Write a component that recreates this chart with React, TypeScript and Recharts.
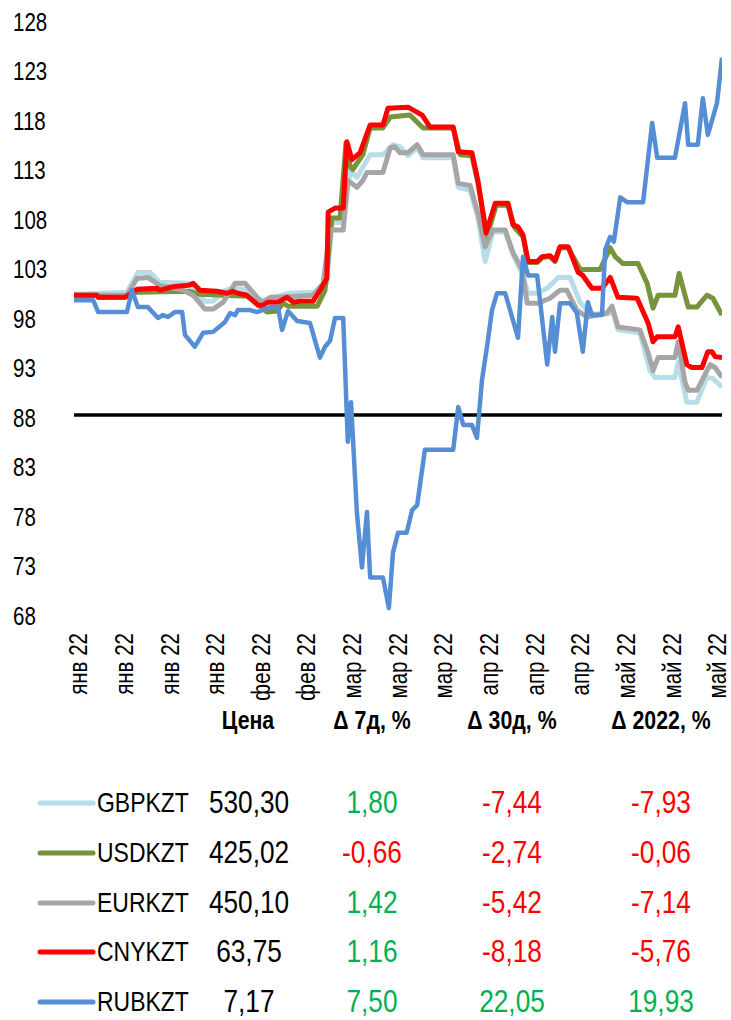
import React from 'react';
import { LineChart, Line, XAxis, YAxis, ReferenceLine } from 'recharts';

const FONT = "'Liberation Sans', Arial, sans-serif";
const NARROW = 0.82;

const tickDays = [0, 10, 20, 30, 40, 50, 60, 70, 80, 90, 100, 110, 120, 130, 140];
const tickLabels = [
  'янв 22', 'янв 22', 'янв 22', 'янв 22', 'фев 22', 'фев 22', 'мар 22', 'мар 22',
  'мар 22', 'апр 22', 'апр 22', 'апр 22', 'май 22', 'май 22', 'май 22',
];
const yTicks = [68, 73, 78, 83, 88, 93, 98, 103, 108, 113, 118, 123, 128];
const referenceLevel = 88.3;

const gbpkzt: [number, number][] = [
  [-1, 100.5], [10.6, 100.7], [13.0, 102.7], [15.7, 102.7], [17.8, 101.7], [23.8, 101.6], [26.0, 100.6],
  [27.7, 99.8], [29.5, 99.8], [32.1, 100.9], [34.3, 101.2], [36.9, 100.9], [39.8, 99.7], [42.0, 100.1],
  [46.3, 100.6], [51.8, 100.7], [54.4, 101.6], [55.5, 107.7], [58.0, 107.8], [59.5, 113.0], [61.0, 112.3],
  [63.9, 114.6], [66.7, 114.6], [68.9, 115.6], [70.4, 115.4], [72.2, 114.5], [74.2, 115.3], [75.5, 114.3],
  [82.1, 114.3], [83.2, 111.3], [85.8, 111.0], [87.5, 108.3], [89.1, 103.8], [90.8, 106.8], [93.5, 106.8],
  [95.2, 104.5], [97.2, 102.6], [98.5, 100.6], [100.5, 100.6], [102.7, 101.1], [105.1, 102.2], [107.7, 102.2],
  [109.9, 99.7], [112.1, 98.5], [115.8, 98.5], [117.1, 98.7], [118.2, 96.9], [123.0, 96.6], [125.2, 92.8],
  [126.3, 92.1], [130.7, 92.1], [131.4, 93.6], [133.3, 89.6], [135.5, 89.6], [137.7, 92.1], [139.0, 92.0],
  [141.0, 91.1],
];

const usdkzt: [number, number][] = [
  [-1, 100.4], [4.0, 100.4], [4.3, 100.2], [10.2, 100.2], [12.8, 100.7], [24.0, 100.8], [26.6, 100.5],
  [36.9, 100.3], [39.3, 99.5], [41.3, 98.7], [43.5, 98.8], [44.8, 99.6], [45.9, 99.3], [52.3, 99.3],
  [54.0, 100.9], [55.5, 108.2], [57.3, 108.2], [58.6, 115.8], [59.5, 113.4], [60.1, 113.1], [62.3, 114.6],
  [63.9, 117.3], [66.7, 117.3], [68.3, 118.4], [72.6, 118.6], [75.5, 117.3], [82.1, 117.3], [83.6, 114.6],
  [86.2, 114.5], [87.5, 111.8], [89.5, 106.3], [91.5, 109.5], [94.1, 109.5], [95.6, 107.2], [97.4, 106.3],
  [98.5, 103.7], [100.5, 103.7], [101.6, 104.2], [103.3, 104.3], [104.4, 103.8], [105.5, 105.2], [107.3, 105.2],
  [109.9, 103.0], [114.3, 103.0], [116.5, 105.2], [117.6, 104.3], [119.3, 103.6], [122.6, 103.6], [124.6, 101.6],
  [125.9, 99.1], [127.0, 100.4], [130.7, 100.4], [131.6, 102.6], [133.6, 99.2], [135.5, 99.2], [137.7, 100.4],
  [139.0, 100.1], [141.0, 98.4],
];

const eurkzt: [number, number][] = [
  [-1, 100.4], [10.6, 100.4], [12.8, 102.1], [15.2, 102.2], [17.8, 101.4], [22.9, 100.9], [25.1, 100.4],
  [27.7, 99.0], [29.5, 99.0], [31.7, 99.7], [34.3, 101.6], [36.5, 101.6], [39.3, 100.1], [40.4, 99.7],
  [42.0, 100.2], [44.1, 100.2], [51.4, 100.4], [53.6, 101.6], [55.1, 107.0], [58.0, 107.0], [59.0, 112.0],
  [61.0, 111.3], [62.3, 112.0], [63.2, 112.8], [66.7, 112.8], [68.3, 115.3], [69.3, 115.4], [70.4, 114.8],
  [72.2, 114.8], [74.2, 115.6], [75.5, 114.6], [82.1, 114.6], [83.2, 111.7], [85.8, 111.5], [87.5, 108.7],
  [89.1, 105.3], [90.8, 107.0], [93.5, 107.0], [95.2, 104.7], [97.2, 103.0], [98.3, 99.6], [100.7, 99.6],
  [103.3, 100.1], [105.5, 100.9], [107.0, 100.9], [109.2, 98.9], [111.4, 98.2], [115.8, 98.6], [116.9, 99.3],
  [118.2, 97.2], [123.0, 96.9], [124.8, 94.6], [125.9, 92.8], [127.0, 94.1], [130.7, 94.1], [131.4, 95.7],
  [132.9, 91.6], [133.6, 90.8], [135.5, 90.8], [138.4, 93.4], [139.5, 93.1], [141.0, 92.1],
];

const cnykzt: [number, number][] = [
  [-1, 100.4], [4.0, 100.4], [4.3, 100.2], [10.2, 100.2], [12.8, 101.0], [17.2, 101.1], [17.8, 100.9],
  [20.0, 101.2], [21.6, 101.3], [24.0, 101.4], [25.1, 101.6], [26.6, 100.9], [30.3, 100.8], [32.5, 100.6],
  [33.8, 100.8], [34.9, 100.6], [36.9, 100.4], [39.3, 99.4], [40.4, 99.4], [41.5, 99.7], [43.7, 99.7],
  [45.7, 100.2], [47.0, 99.7], [48.5, 99.8], [51.4, 99.8], [52.9, 100.9], [54.4, 102.1], [54.7, 108.8],
  [56.2, 109.2], [58.0, 109.2], [58.8, 115.9], [59.9, 114.1], [61.7, 114.8], [63.9, 117.6], [66.7, 117.6],
  [67.8, 119.3], [72.2, 119.4], [75.3, 118.6], [77.0, 117.4], [82.1, 117.4], [83.2, 114.9], [86.2, 114.8],
  [87.5, 112.0], [89.3, 106.7], [91.3, 109.7], [94.1, 109.7], [95.2, 107.5], [96.3, 107.3], [97.4, 106.5],
  [98.5, 103.8], [100.5, 103.8], [101.6, 104.3], [103.3, 104.4], [104.4, 103.9], [105.5, 105.3], [107.3, 105.3],
  [109.5, 102.7], [110.5, 102.4], [112.5, 101.1], [114.7, 101.1], [116.5, 102.2], [118.2, 100.2], [122.4, 100.1],
  [124.8, 97.6], [125.9, 95.7], [126.8, 96.2], [130.7, 96.2], [131.4, 97.2], [133.3, 93.4], [134.4, 93.1],
  [136.6, 93.1], [137.9, 94.7], [138.8, 94.7], [139.5, 94.2], [141.0, 94.1],
];

const rubkzt: [number, number][] = [
  [-1, 99.9], [3.2, 99.9], [4.3, 98.7], [10.6, 98.7], [11.7, 100.9], [13.0, 99.2], [15.2, 99.2], [17.4, 98.1],
  [18.5, 98.4], [19.6, 98.2], [21.1, 98.7], [22.7, 98.7], [23.3, 96.4], [25.5, 95.2], [27.3, 96.6], [29.5, 96.7],
  [32.1, 97.7], [33.2, 98.6], [34.3, 98.4], [34.9, 98.9], [37.6, 98.9], [39.1, 98.7], [42.0, 99.2], [43.7, 99.2],
  [44.6, 96.9], [45.9, 98.8], [47.9, 97.8], [50.7, 97.6], [52.9, 94.1], [54.0, 95.2], [55.1, 95.8], [56.2, 98.1],
  [58.0, 98.1], [59.0, 85.6], [59.7, 89.6], [61.0, 78.4], [62.1, 72.9], [63.2, 78.5], [63.9, 71.9], [66.7, 71.9],
  [68.0, 68.8], [68.9, 74.4], [70.0, 76.4], [71.9, 76.4], [73.1, 78.7], [74.2, 79.2], [75.9, 84.8], [82.1, 84.8],
  [83.2, 89.1], [84.3, 87.3], [86.2, 87.3], [87.3, 86.0], [88.4, 91.8], [89.5, 95.2], [90.6, 98.9], [91.7, 100.6],
  [93.5, 100.6], [96.3, 96.1], [97.4, 104.3], [98.5, 102.4], [100.5, 102.4], [102.7, 93.4], [103.8, 98.2],
  [104.4, 94.7], [105.5, 99.6], [107.7, 99.6], [109.2, 98.6], [110.5, 94.7], [111.6, 99.7], [112.5, 98.4],
  [114.7, 98.4], [115.4, 105.0], [116.5, 106.3], [117.3, 105.8], [118.7, 110.3], [120.2, 109.8], [123.7, 109.8],
  [125.7, 117.8], [126.8, 114.3], [130.7, 114.3], [132.9, 119.8], [133.6, 115.6], [135.7, 115.6], [136.8, 120.3],
  [137.9, 116.6], [139.9, 119.8], [141.0, 124.4],
];

const seriesNames = ['GBPKZT', 'USDKZT', 'EURKZT', 'CNYKZT', 'RUBKZT'];
const seriesColors = ['#B7DDE8', '#77933C', '#A6A6A6', '#FF0000', '#558ED5'];
const seriesPoints = [gbpkzt, usdkzt, eurkzt, cnykzt, rubkzt];

const headers = ['Цена', 'Δ 7д, %', 'Δ 30д, %', 'Δ 2022, %'];
const prices = ['530,30', '425,02', '450,10', '63,75', '7,17'];
const delta7 = [1.8, -0.66, 1.42, 1.16, 7.5];
const delta30 = [-7.44, -2.74, -5.42, -8.18, 22.05];
const delta2022 = [-7.93, -0.06, -7.14, -5.76, 19.93];

const fmt = (v: number) => v.toFixed(2).replace('.', ',');
const colorOf = (v: number) => (v >= 0 ? '#00B050' : '#FF0000');

const NText = ({ x, y, size, anchor = 'start', fill = '#000', bold = false, children, baseline }: any) => (
  <text
    transform={`translate(${x},${y}) scale(${NARROW},1)`}
    textAnchor={anchor}
    dominantBaseline={baseline}
    fontFamily={FONT}
    fontSize={size}
    fontWeight={bold ? 'bold' : 'normal'}
    fill={fill}
  >
    {children}
  </text>
);

const YTick = (props: any) => (
  <NText x={13} y={props.y} size={25} baseline="central">
    {props.payload.value}
  </NText>
);

const XTick = (props: any) => {
  const idx = tickDays.indexOf(props.payload.value);
  return (
    <text
      transform={`translate(${props.x},${props.y + 9}) rotate(-90) scale(${NARROW},1)`}
      textAnchor="end"
      dominantBaseline="central"
      fontFamily={FONT}
      fontSize={25}
      fill="#000"
    >
      {tickLabels[idx]}
    </text>
  );
};

const headerX = [248, 372, 512, 661];
const rowY = [802, 852, 902, 951, 1001];

export default function App() {
  return (
    <div style={{ position: 'absolute', left: 0, top: 0, width: 731, height: 1020, background: '#fff' }}>
      <LineChart width={731} height={720} margin={{ top: 22, right: 9, left: 0, bottom: 14 }}>
        <XAxis
          type="number"
          dataKey="d"
          domain={[-1, 141]}
          ticks={tickDays}
          interval={0}
          axisLine={false}
          tickLine={false}
          tickSize={0}
          tickMargin={8}
          height={90}
          tick={<XTick />}
          allowDataOverflow
        />
        <YAxis
          type="number"
          domain={[68, 128]}
          ticks={yTicks}
          interval={0}
          axisLine={false}
          tickLine={false}
          width={74}
          tick={<YTick />}
          allowDataOverflow
        />
        <ReferenceLine y={referenceLevel} stroke="#000" strokeWidth={3.5} />
        {seriesPoints.map((pts, i) => (
          <Line
            key={seriesNames[i]}
            data={pts.map(([d, v]) => ({ d, v }))}
            dataKey="v"
            name={seriesNames[i]}
            stroke={seriesColors[i]}
            strokeWidth={i === 4 ? 4.5 : 5}
            strokeLinejoin="round"
            dot={false}
            activeDot={false}
            isAnimationActive={false}
            type="linear"
          />
        ))}
      </LineChart>
      <svg width={731} height={1020} style={{ position: 'absolute', left: 0, top: 0, pointerEvents: 'none' }}>
        {headers.map((h, i) => (
          <NText key={h} x={headerX[i]} y={729} size={26} anchor="middle" bold>
            {h}
          </NText>
        ))}
        {seriesNames.map((name, i) => (
          <g key={name}>
            <line x1={40} x2={93} y1={rowY[i] + 1} y2={rowY[i] + 1} stroke={seriesColors[i]} strokeWidth={5} strokeLinecap="round" />
            <NText x={97} y={rowY[i] + 10} size={28}>{name}</NText>
            <NText x={249} y={rowY[i] + 11} size={32} anchor="middle">{prices[i]}</NText>
            <NText x={372} y={rowY[i] + 11} size={32} anchor="middle" fill={colorOf(delta7[i])}>{fmt(delta7[i])}</NText>
            <NText x={512} y={rowY[i] + 11} size={32} anchor="middle" fill={colorOf(delta30[i])}>{fmt(delta30[i])}</NText>
            <NText x={661} y={rowY[i] + 11} size={32} anchor="middle" fill={colorOf(delta2022[i])}>{fmt(delta2022[i])}</NText>
          </g>
        ))}
      </svg>
    </div>
  );
}
